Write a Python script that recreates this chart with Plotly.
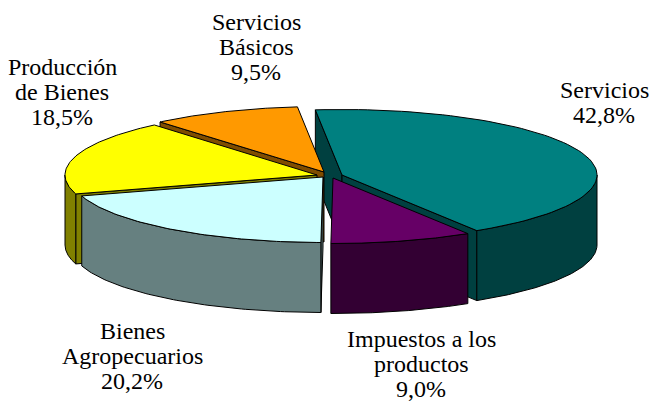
import numpy as np
import plotly.graph_objects as go

# Data
categories = ["Servicios", "Impuestos a los productos", "Bienes Agropecuarios", "Producción de Bienes", "Servicios Básicos"]
shares = [42.8, 9.0, 20.2, 18.5, 9.5]
share_labels = ["42,8%", "9,0%", "20,2%", "18,5%", "9,5%"]
label_lines = [["Servicios"], ["Impuestos a los", "productos"], ["Bienes", "Agropecuarios"], ["Producción", "de Bienes"], ["Servicios", "Básicos"]]

# Styles and projection
top_colors = ["#008080", "#660066", "#CCFFFF", "#FFFF00", "#FF9900"]
side_colors = ["#004040", "#330033", "#668080", "#808000", "#804D00"]
centers_x = [342, 333, 323, 317, 324]
centers_y = [175, 178, 177, 175, 172]
radii_x = [255, 255, 252, 252, 254]
label_x = [604, 421, 132, 62, 256]
label_first_y = [90, 339, 331, 67, 22]
LINE_STEP = 25
RY, DEPTH = 65.5, 70
START_DEG = -6

edges = START_DEG + np.concatenate([[0], np.cumsum(shares)]) * 360 / sum(shares)

def rim(cx, cy, rx, a0, a1, n=80):
    t = np.radians(np.linspace(a0, a1, n))
    return cx + rx * np.sin(t), cy - RY * np.cos(t)

def add_poly(fig, xs, ys, color, name):
    fig.add_trace(go.Scatter(
        x=np.append(xs, xs[0]), y=np.append(ys, ys[0]), mode="lines", fill="toself",
        fillcolor=color, line=dict(color="#000000", width=1), hoverinfo="text", text=name,
        showlegend=False))

fig = go.Figure()

def draw_slice(i):
    cx, cy, rx = centers_x[i], centers_y[i], radii_x[i]
    a0, a1 = edges[i], edges[i + 1]
    name = categories[i]
    # radial faces turned toward the viewer
    for a, show in ((a0, np.cos(np.radians(a0 - 90)) < 0), (a1, np.cos(np.radians(a1 + 90)) < 0)):
        if show:
            ex, ey = rim(cx, cy, rx, a, a, 1)
            add_poly(fig, np.array([cx, ex[0], ex[0], cx]),
                     np.array([cy, ey[0], ey[0] + DEPTH, cy + DEPTH]), side_colors[i], name)
    # outer wall: only the front half of the rim is visible
    lo, hi = max(a0, 90), min(a1, 270)
    if lo < hi:
        wx, wy = rim(cx, cy, rx, lo, hi)
        add_poly(fig, np.concatenate([wx, wx[::-1]]),
                 np.concatenate([wy, wy[::-1] + DEPTH]), side_colors[i], name)
    # top face
    tx, ty = rim(cx, cy, rx, a0, a1)
    add_poly(fig, np.concatenate([[cx], tx]), np.concatenate([[cy], ty]), top_colors[i], name)

for i in [0, 4, 3, 2, 1]:
    draw_slice(i)

for i in range(len(categories)):
    for j, line in enumerate(label_lines[i] + [share_labels[i]]):
        fig.add_annotation(x=label_x[i], y=label_first_y[i] + j * LINE_STEP, text=line,
                           showarrow=False, align="center", xanchor="center", yanchor="middle",
                           font=dict(family="Liberation Serif", size=24, color="#000000"))

fig.update_layout(width=649, height=402, margin=dict(l=0, r=0, t=0, b=0),
                  paper_bgcolor="white", plot_bgcolor="white", showlegend=False,
                  xaxis=dict(range=[0, 649], visible=False, fixedrange=True),
                  yaxis=dict(range=[402, 0], visible=False, fixedrange=True))
fig.write_html("out.html", config={"displayModeBar": False},
               post_script="document.body.style.margin='0';")
